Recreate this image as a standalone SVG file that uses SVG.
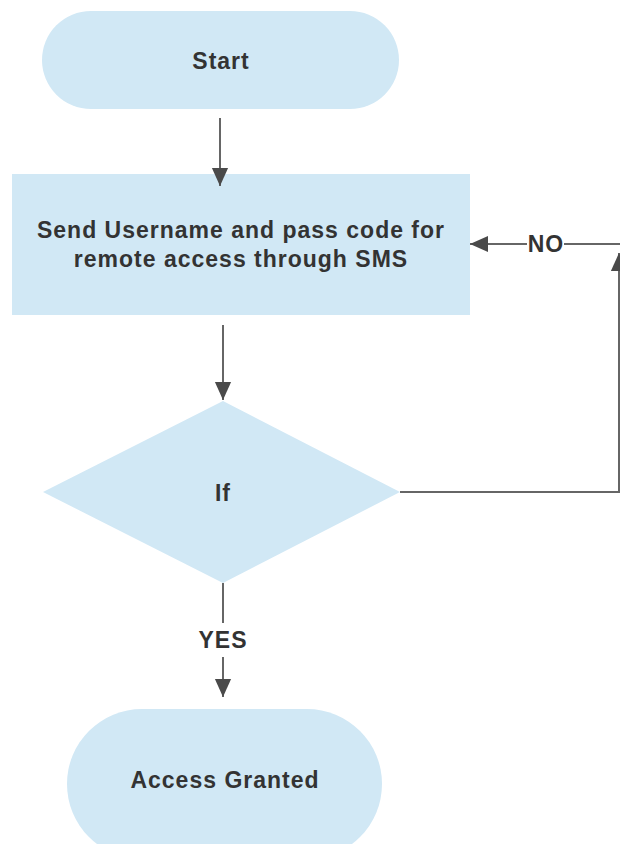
<svg xmlns="http://www.w3.org/2000/svg" width="620" height="844" viewBox="0 0 620 844">
  <style>
    .shape { fill: #d1e8f5; stroke: none; }
    .label { font-family: "Liberation Sans", Arial, sans-serif; font-weight: bold; font-size: 23px; letter-spacing: 1px; fill: #333333; text-anchor: middle; }
    .edge { fill: none; stroke: #666666; stroke-width: 2; }
  </style>
  <defs>
    <marker id="arrow" viewBox="0 0 10 10" refX="10" refY="5" markerWidth="9" markerHeight="9" markerUnits="userSpaceOnUse" orient="auto">
      <path d="M0,0 L10,5 L0,10 Z" fill="#4a4a4a"/>
    </marker>
    <marker id="arrowBig" viewBox="0 0 10 10" refX="10" refY="5" markerWidth="18" markerHeight="18" markerUnits="userSpaceOnUse" orient="auto">
      <path d="M0,0.5 L10,5 L0,9.5 Z" fill="#4a4a4a"/>
    </marker>
  </defs>

  <!-- nodes -->
  <g id="start">
    <rect class="shape" x="42" y="11" width="357" height="98" rx="49" ry="49"/>
    <text class="label" x="221" y="69">Start</text>
  </g>

  <g id="send-credentials">
    <rect class="shape" x="12" y="174" width="458" height="141"/>
    <text class="label" x="241" y="238">Send Username and pass code for</text>
    <text class="label" x="241" y="267">remote access through SMS</text>
  </g>

  <g id="decision">
    <polygon class="shape" points="223,401 400,492 223,583 43,492"/>
    <text class="label" x="223" y="501">If</text>
  </g>

  <g id="access-granted">
    <rect class="shape" x="67" y="709" width="315" height="150" rx="75" ry="75"/>
    <text class="label" x="225" y="788">Access Granted</text>
  </g>

  <!-- connectors -->
  <g id="connectors">
    <path class="edge" d="M220,118 V186" marker-end="url(#arrowBig)"/>
    <path class="edge" d="M223,325 V400" marker-end="url(#arrowBig)"/>
    <path class="edge" d="M223,583 V623"/>
    <path class="edge" d="M223,657 V697" marker-end="url(#arrowBig)"/>
    <path class="edge" d="M400,492 H619 V253" marker-end="url(#arrowBig)"/>
    <path class="edge" d="M527,244 H470" marker-end="url(#arrowBig)"/>
    <path class="edge" d="M564,244 H620"/>
    <text class="label" x="546" y="252">NO</text>
    <text class="label" x="223" y="648">YES</text>
  </g>
</svg>
